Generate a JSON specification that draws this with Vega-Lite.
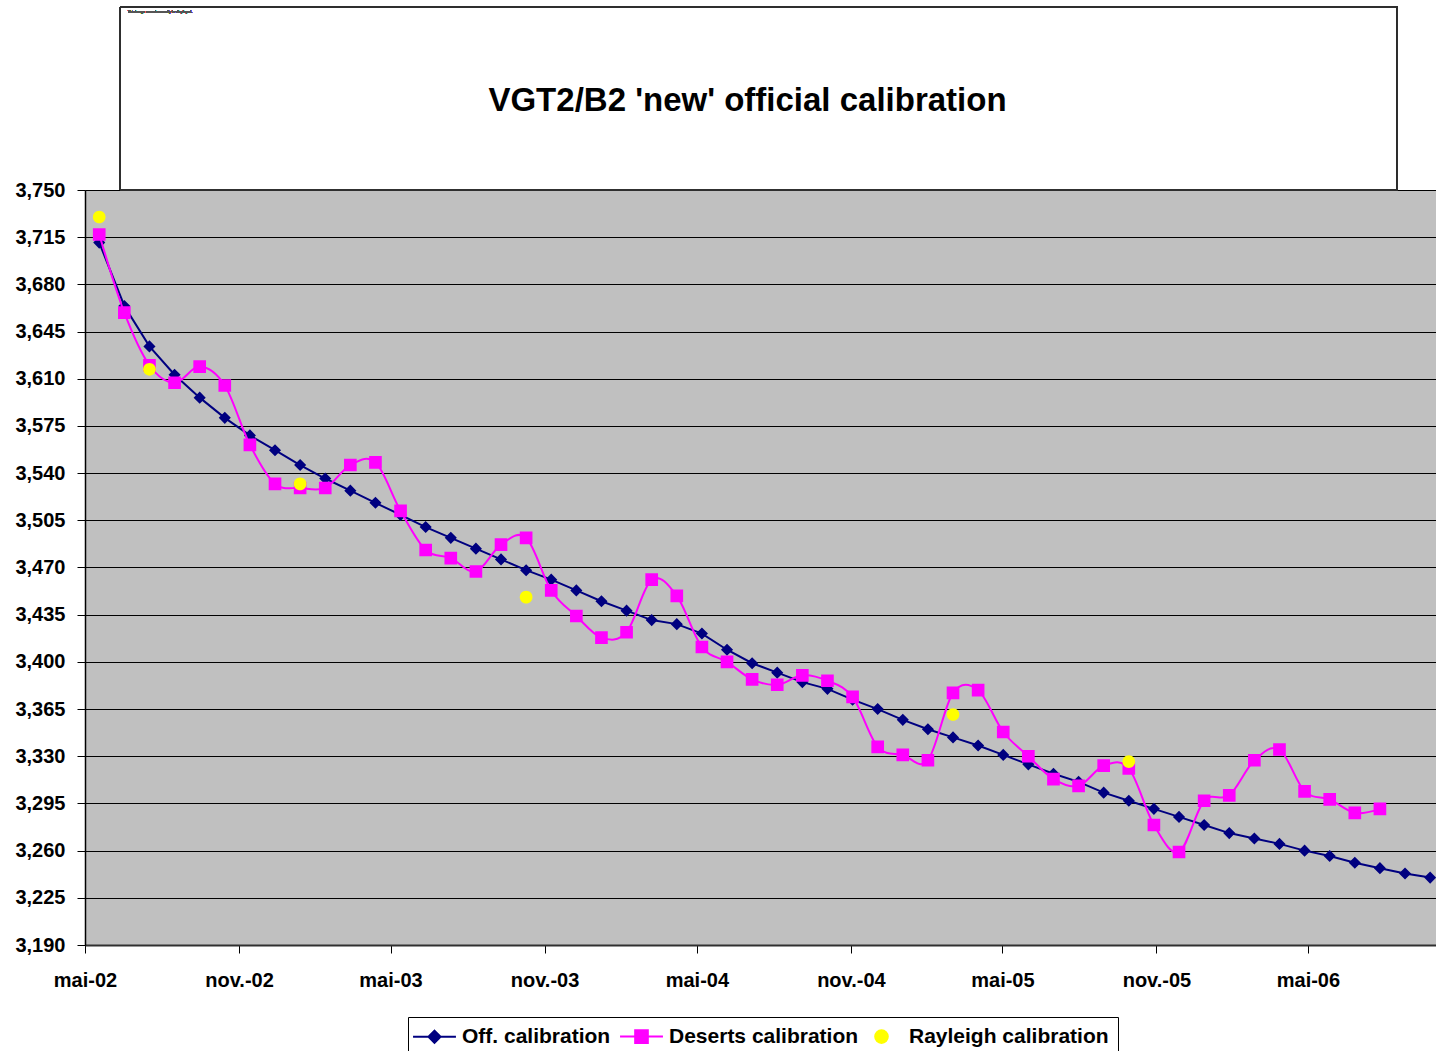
{
  "$schema": "https://vega.github.io/schema/vega-lite/v6.json",
  "width": 1351,
  "height": 755,
  "autosize": {"type": "none"},
  "padding": {"left": 85, "top": 190, "right": 0, "bottom": 106},
  "background": "#ffffff",
  "title": {
    "text": "VGT2/B2 'new' official calibration",
    "font": "Liberation Sans",
    "fontSize": 33,
    "fontWeight": "bold",
    "color": "#000000",
    "anchor": "middle",
    "frame": "group",
    "baseline": "alphabetic",
    "offset": 0,
    "dy": 137,
    "dx": -13
  },
  "data": {
    "values": [
      {"series": "Off. calibration", "date": "2002-05-18", "value": 3.711},
      {"series": "Off. calibration", "date": "2002-06-17", "value": 3.664},
      {"series": "Off. calibration", "date": "2002-07-17", "value": 3.634},
      {"series": "Off. calibration", "date": "2002-08-16", "value": 3.613},
      {"series": "Off. calibration", "date": "2002-09-15", "value": 3.596},
      {"series": "Off. calibration", "date": "2002-10-15", "value": 3.581},
      {"series": "Off. calibration", "date": "2002-11-14", "value": 3.568},
      {"series": "Off. calibration", "date": "2002-12-14", "value": 3.557},
      {"series": "Off. calibration", "date": "2003-01-13", "value": 3.546},
      {"series": "Off. calibration", "date": "2003-02-12", "value": 3.536},
      {"series": "Off. calibration", "date": "2003-03-14", "value": 3.527},
      {"series": "Off. calibration", "date": "2003-04-13", "value": 3.518},
      {"series": "Off. calibration", "date": "2003-05-13", "value": 3.509},
      {"series": "Off. calibration", "date": "2003-06-12", "value": 3.500},
      {"series": "Off. calibration", "date": "2003-07-12", "value": 3.492},
      {"series": "Off. calibration", "date": "2003-08-11", "value": 3.484},
      {"series": "Off. calibration", "date": "2003-09-10", "value": 3.476},
      {"series": "Off. calibration", "date": "2003-10-10", "value": 3.468},
      {"series": "Off. calibration", "date": "2003-11-09", "value": 3.461},
      {"series": "Off. calibration", "date": "2003-12-09", "value": 3.453},
      {"series": "Off. calibration", "date": "2004-01-08", "value": 3.445},
      {"series": "Off. calibration", "date": "2004-02-07", "value": 3.438},
      {"series": "Off. calibration", "date": "2004-03-08", "value": 3.431},
      {"series": "Off. calibration", "date": "2004-04-07", "value": 3.428},
      {"series": "Off. calibration", "date": "2004-05-07", "value": 3.421},
      {"series": "Off. calibration", "date": "2004-06-06", "value": 3.409},
      {"series": "Off. calibration", "date": "2004-07-06", "value": 3.399},
      {"series": "Off. calibration", "date": "2004-08-05", "value": 3.392},
      {"series": "Off. calibration", "date": "2004-09-04", "value": 3.385},
      {"series": "Off. calibration", "date": "2004-10-04", "value": 3.380},
      {"series": "Off. calibration", "date": "2004-11-03", "value": 3.372},
      {"series": "Off. calibration", "date": "2004-12-03", "value": 3.365},
      {"series": "Off. calibration", "date": "2005-01-02", "value": 3.357},
      {"series": "Off. calibration", "date": "2005-02-01", "value": 3.350},
      {"series": "Off. calibration", "date": "2005-03-03", "value": 3.344},
      {"series": "Off. calibration", "date": "2005-04-02", "value": 3.338},
      {"series": "Off. calibration", "date": "2005-05-02", "value": 3.331},
      {"series": "Off. calibration", "date": "2005-06-01", "value": 3.324},
      {"series": "Off. calibration", "date": "2005-07-01", "value": 3.317},
      {"series": "Off. calibration", "date": "2005-07-31", "value": 3.311},
      {"series": "Off. calibration", "date": "2005-08-30", "value": 3.303},
      {"series": "Off. calibration", "date": "2005-09-29", "value": 3.297},
      {"series": "Off. calibration", "date": "2005-10-29", "value": 3.291},
      {"series": "Off. calibration", "date": "2005-11-28", "value": 3.285},
      {"series": "Off. calibration", "date": "2005-12-28", "value": 3.279},
      {"series": "Off. calibration", "date": "2006-01-27", "value": 3.273},
      {"series": "Off. calibration", "date": "2006-02-26", "value": 3.269},
      {"series": "Off. calibration", "date": "2006-03-28", "value": 3.265},
      {"series": "Off. calibration", "date": "2006-04-27", "value": 3.260},
      {"series": "Off. calibration", "date": "2006-05-27", "value": 3.256},
      {"series": "Off. calibration", "date": "2006-06-26", "value": 3.251},
      {"series": "Off. calibration", "date": "2006-07-26", "value": 3.247},
      {"series": "Off. calibration", "date": "2006-08-25", "value": 3.243},
      {"series": "Off. calibration", "date": "2006-09-24", "value": 3.240},
      {"series": "Deserts calibration", "date": "2002-05-18", "value": 3.717},
      {"series": "Deserts calibration", "date": "2002-06-17", "value": 3.659},
      {"series": "Deserts calibration", "date": "2002-07-17", "value": 3.620},
      {"series": "Deserts calibration", "date": "2002-08-16", "value": 3.607},
      {"series": "Deserts calibration", "date": "2002-09-15", "value": 3.619},
      {"series": "Deserts calibration", "date": "2002-10-15", "value": 3.605},
      {"series": "Deserts calibration", "date": "2002-11-14", "value": 3.561},
      {"series": "Deserts calibration", "date": "2002-12-14", "value": 3.532},
      {"series": "Deserts calibration", "date": "2003-01-13", "value": 3.529},
      {"series": "Deserts calibration", "date": "2003-02-12", "value": 3.529},
      {"series": "Deserts calibration", "date": "2003-03-14", "value": 3.546},
      {"series": "Deserts calibration", "date": "2003-04-13", "value": 3.548},
      {"series": "Deserts calibration", "date": "2003-05-13", "value": 3.512},
      {"series": "Deserts calibration", "date": "2003-06-12", "value": 3.483},
      {"series": "Deserts calibration", "date": "2003-07-12", "value": 3.477},
      {"series": "Deserts calibration", "date": "2003-08-11", "value": 3.467},
      {"series": "Deserts calibration", "date": "2003-09-10", "value": 3.487},
      {"series": "Deserts calibration", "date": "2003-10-10", "value": 3.492},
      {"series": "Deserts calibration", "date": "2003-11-09", "value": 3.453},
      {"series": "Deserts calibration", "date": "2003-12-09", "value": 3.434},
      {"series": "Deserts calibration", "date": "2004-01-08", "value": 3.418},
      {"series": "Deserts calibration", "date": "2004-02-07", "value": 3.422},
      {"series": "Deserts calibration", "date": "2004-03-08", "value": 3.461},
      {"series": "Deserts calibration", "date": "2004-04-07", "value": 3.449},
      {"series": "Deserts calibration", "date": "2004-05-07", "value": 3.411},
      {"series": "Deserts calibration", "date": "2004-06-06", "value": 3.400},
      {"series": "Deserts calibration", "date": "2004-07-06", "value": 3.387},
      {"series": "Deserts calibration", "date": "2004-08-05", "value": 3.383},
      {"series": "Deserts calibration", "date": "2004-09-04", "value": 3.390},
      {"series": "Deserts calibration", "date": "2004-10-04", "value": 3.386},
      {"series": "Deserts calibration", "date": "2004-11-03", "value": 3.374},
      {"series": "Deserts calibration", "date": "2004-12-03", "value": 3.337},
      {"series": "Deserts calibration", "date": "2005-01-02", "value": 3.331},
      {"series": "Deserts calibration", "date": "2005-02-01", "value": 3.327},
      {"series": "Deserts calibration", "date": "2005-03-03", "value": 3.377},
      {"series": "Deserts calibration", "date": "2005-04-02", "value": 3.379},
      {"series": "Deserts calibration", "date": "2005-05-02", "value": 3.348},
      {"series": "Deserts calibration", "date": "2005-06-01", "value": 3.330},
      {"series": "Deserts calibration", "date": "2005-07-01", "value": 3.313},
      {"series": "Deserts calibration", "date": "2005-07-31", "value": 3.308},
      {"series": "Deserts calibration", "date": "2005-08-30", "value": 3.323},
      {"series": "Deserts calibration", "date": "2005-09-29", "value": 3.321},
      {"series": "Deserts calibration", "date": "2005-10-29", "value": 3.279},
      {"series": "Deserts calibration", "date": "2005-11-28", "value": 3.259},
      {"series": "Deserts calibration", "date": "2005-12-28", "value": 3.297},
      {"series": "Deserts calibration", "date": "2006-01-27", "value": 3.301},
      {"series": "Deserts calibration", "date": "2006-02-26", "value": 3.327},
      {"series": "Deserts calibration", "date": "2006-03-28", "value": 3.335},
      {"series": "Deserts calibration", "date": "2006-04-27", "value": 3.304},
      {"series": "Deserts calibration", "date": "2006-05-27", "value": 3.298},
      {"series": "Deserts calibration", "date": "2006-06-26", "value": 3.288},
      {"series": "Deserts calibration", "date": "2006-07-26", "value": 3.291},
      {"series": "Rayleigh calibration", "date": "2002-05-18", "value": 3.730},
      {"series": "Rayleigh calibration", "date": "2002-07-17", "value": 3.617},
      {"series": "Rayleigh calibration", "date": "2003-01-13", "value": 3.532},
      {"series": "Rayleigh calibration", "date": "2003-10-10", "value": 3.448},
      {"series": "Rayleigh calibration", "date": "2005-03-03", "value": 3.361},
      {"series": "Rayleigh calibration", "date": "2005-09-29", "value": 3.326}
    ]
  },
  "encoding": {
    "x": {
      "field": "date",
      "type": "temporal",
      "scale": {
        "type": "utc",
        "domain": [
          {"year": 2002, "month": "May", "date": 1, "utc": true},
          {"year": 2006, "month": "October", "date": 1, "utc": true}
        ]
      },
      "axis": {
        "title": null,
        "grid": false,
        "values": [
          {"year": 2002, "month": "May", "date": 1, "utc": true},
          {"year": 2002, "month": "November", "date": 1, "utc": true},
          {"year": 2003, "month": "May", "date": 1, "utc": true},
          {"year": 2003, "month": "November", "date": 1, "utc": true},
          {"year": 2004, "month": "May", "date": 1, "utc": true},
          {"year": 2004, "month": "November", "date": 1, "utc": true},
          {"year": 2005, "month": "May", "date": 1, "utc": true},
          {"year": 2005, "month": "November", "date": 1, "utc": true},
          {"year": 2006, "month": "May", "date": 1, "utc": true}
        ],
        "labelExpr": "(utcmonth(datum.value) == 4 ? 'mai' : 'nov.') + '-' + utcFormat(datum.value, '%y')",
        "tickSize": 8,
        "labelPadding": 17,
        "domainColor": "#303030",
        "domainWidth": 2,
        "labelFlush": false,
        "labelOverlap": false
      }
    },
    "y": {
      "field": "value",
      "type": "quantitative",
      "scale": {"domain": [3.19, 3.75], "nice": false, "zero": false},
      "axis": {
        "title": null,
        "grid": true,
        "gridColor": "#000000",
        "gridWidth": 1,
        "values": [3.19, 3.225, 3.26, 3.295, 3.33, 3.365, 3.4, 3.435, 3.47, 3.505, 3.54, 3.575, 3.61, 3.645, 3.68, 3.715, 3.75],
        "labelExpr": "replace(format(datum.value, '.3f'), '.', ',')",
        "tickSize": 8,
        "labelPadding": 12,
        "domainColor": "#000000",
        "domainWidth": 1.5,
        "labelFlush": false,
        "labelOverlap": false
      }
    }
  },
  "layer": [
    {
      "transform": [{"filter": "datum.series == 'Off. calibration'"}],
      "mark": {"type": "line", "color": "#000080", "strokeWidth": 2}
    },
    {
      "transform": [{"filter": "datum.series == 'Off. calibration'"}],
      "mark": {"type": "point", "filled": true, "size": 121, "opacity": 1},
      "encoding": {
        "color": {"field": "series", "type": "nominal", "scale": {"domain": ["Off. calibration", "Deserts calibration", "Rayleigh calibration"], "range": ["#000080", "#FF00FF", "#FFFF00"]}, "legend": {"title": null}},
        "stroke": {"field": "series", "type": "nominal", "scale": {"domain": ["Off. calibration", "Deserts calibration", "Rayleigh calibration"], "range": ["#000080", "#FF00FF", "#FFFF00"]}, "legend": {"title": null}},
        "shape": {"field": "series", "type": "nominal", "scale": {"domain": ["Off. calibration", "Deserts calibration", "Rayleigh calibration"], "range": ["M-3.9,0H3.9M0,-1.1L1.1,0L0,1.1L-1.1,0Z", "M-3.9,0H3.9M-1.15,-1.15H1.15V1.15H-1.15Z", "M-1.15,0A1.15,1.15,0,1,0,1.15,0A1.15,1.15,0,1,0,-1.15,0Z"]}, "legend": {"title": null}},
        "strokeWidth": {"value": 0}
      }
    },
    {
      "transform": [{"filter": "datum.series == 'Deserts calibration'"}],
      "mark": {"type": "line", "color": "#FF00FF", "strokeWidth": 2, "interpolate": "cardinal"}
    },
    {
      "transform": [{"filter": "datum.series == 'Deserts calibration'"}],
      "mark": {"type": "point", "filled": true, "size": 121, "opacity": 1},
      "encoding": {
        "color": {"field": "series", "type": "nominal", "scale": {"domain": ["Off. calibration", "Deserts calibration", "Rayleigh calibration"], "range": ["#000080", "#FF00FF", "#FFFF00"]}, "legend": {"title": null}},
        "stroke": {"field": "series", "type": "nominal", "scale": {"domain": ["Off. calibration", "Deserts calibration", "Rayleigh calibration"], "range": ["#000080", "#FF00FF", "#FFFF00"]}, "legend": {"title": null}},
        "shape": {"field": "series", "type": "nominal", "scale": {"domain": ["Off. calibration", "Deserts calibration", "Rayleigh calibration"], "range": ["M-3.9,0H3.9M0,-1.1L1.1,0L0,1.1L-1.1,0Z", "M-3.9,0H3.9M-1.15,-1.15H1.15V1.15H-1.15Z", "M-1.15,0A1.15,1.15,0,1,0,1.15,0A1.15,1.15,0,1,0,-1.15,0Z"]}, "legend": {"title": null}},
        "strokeWidth": {"value": 0}
      }
    },
    {
      "transform": [{"filter": "datum.series == 'Rayleigh calibration'"}],
      "mark": {"type": "point", "filled": true, "size": 121, "opacity": 1},
      "encoding": {
        "color": {"field": "series", "type": "nominal", "scale": {"domain": ["Off. calibration", "Deserts calibration", "Rayleigh calibration"], "range": ["#000080", "#FF00FF", "#FFFF00"]}, "legend": {"title": null}},
        "stroke": {"field": "series", "type": "nominal", "scale": {"domain": ["Off. calibration", "Deserts calibration", "Rayleigh calibration"], "range": ["#000080", "#FF00FF", "#FFFF00"]}, "legend": {"title": null}},
        "shape": {"field": "series", "type": "nominal", "scale": {"domain": ["Off. calibration", "Deserts calibration", "Rayleigh calibration"], "range": ["M-3.9,0H3.9M0,-1.1L1.1,0L0,1.1L-1.1,0Z", "M-3.9,0H3.9M-1.15,-1.15H1.15V1.15H-1.15Z", "M-1.15,0A1.15,1.15,0,1,0,1.15,0A1.15,1.15,0,1,0,-1.15,0Z"]}, "legend": {"title": null}},
        "strokeWidth": {"value": 0}
      }
    },
    {
      "mark": {"type": "rect", "fill": "transparent", "stroke": "#303030", "strokeWidth": 1},
      "encoding": {
        "x": {"datum": {"year": 2002, "month": "June", "date": 12, "utc": true}, "type": "temporal"},
        "x2": {"datum": {"year": 2006, "month": "August", "date": 16, "utc": true}},
        "y": {"datum": 3.75, "type": "quantitative"},
        "y2": {"datum": 3.8857}
      }
    },
    {
      "mark": {"type": "text", "fontSize": 3.5, "color": "#555555", "align": "left", "baseline": "middle", "font": "Liberation Sans"},
      "encoding": {
        "x": {"datum": {"year": 2002, "month": "June", "date": 21, "utc": true}, "type": "temporal"},
        "y": {"datum": 3.882, "type": "quantitative"},
        "text": {"value": "This image cannot currently be displayed."}
      }
    }
  ],
  "config": {
    "view": {"fill": "#C0C0C0", "stroke": "#808080", "strokeWidth": 1},
    "axis": {
      "labelFont": "Liberation Sans",
      "labelFontSize": 20,
      "labelFontWeight": "bold",
      "labelColor": "#000000",
      "tickColor": "#000000",
      "tickWidth": 1
    },
    "legend": {
      "orient": "none",
      "legendX": 323,
      "legendY": 827,
      "direction": "horizontal",
      "strokeColor": "#000000",
      "fillColor": "#FFFFFF",
      "padding": 9,
      "symbolSize": 121,
      "symbolStrokeWidth": 2,
      "symbolOffset": 7,
      "labelOffset": 17,
      "columnPadding": 5,
      "labelFont": "Liberation Sans",
      "labelFontSize": 21,
      "labelFontWeight": "bold",
      "labelColor": "#000000",
      "labelLimit": 400
    }
  }
}
